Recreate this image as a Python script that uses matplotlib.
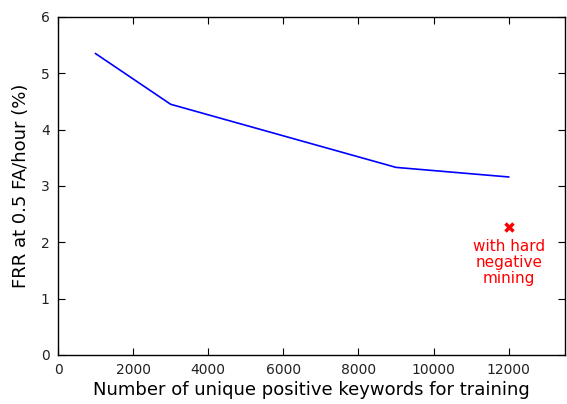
import matplotlib
matplotlib.use("Agg")
import matplotlib.pyplot as plt

# Data
num_keywords = [1000, 3000, 9000, 12000]
frr = [5.35, 4.45, 3.33, 3.16]
hard_neg_x = [12000]
hard_neg_y = [2.28]

fig = plt.figure(figsize=(5.67, 4.04), dpi=100)
ax = fig.add_axes([0.1023, 0.1213, 0.8942, 0.8367])

ax.plot(num_keywords, frr, color="blue", linewidth=1.2)
ax.plot(hard_neg_x, hard_neg_y, marker="x", color="red", markersize=6,
        markeredgewidth=2.5, linestyle="none")
ax.text(hard_neg_x[0], hard_neg_y[0] - 0.22, "with hard\nnegative\nmining",
        color="red", ha="center", va="top", fontsize=11, linespacing=1.1)

ax.set_xlim(0, 13500)
ax.set_ylim(0, 6)
ax.set_xticks([0, 2000, 4000, 6000, 8000, 10000, 12000])
ax.set_yticks([0, 1, 2, 3, 4, 5, 6])
ax.tick_params(direction="in", top=True, right=True, length=5, labelsize=10,
               pad=6, colors="black", labelcolor="#222222")
for s in ax.spines.values():
    s.set_linewidth(1.0)

ax.set_xlabel("Number of unique positive keywords for training", fontsize=13,
              labelpad=3)
ax.set_ylabel("FRR at 0.5 FA/hour (%)", fontsize=13, labelpad=8)

plt.savefig("out.png", dpi=100)
plt.close()
